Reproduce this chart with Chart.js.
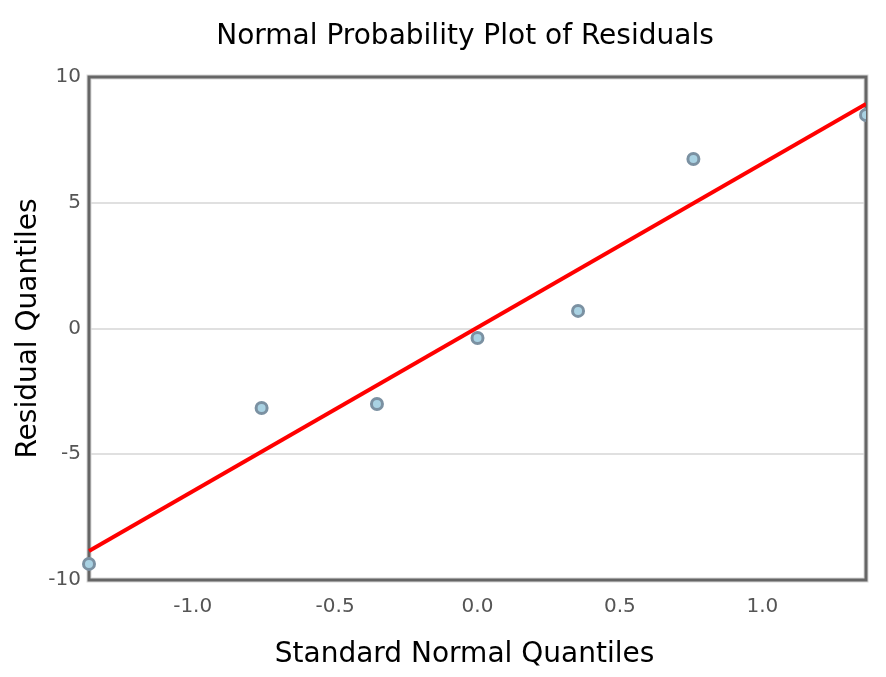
<!DOCTYPE html>
<html>
<head>
<meta charset="utf-8">
<script src="https://cdn.jsdelivr.net/npm/chart.js@4"></script>
<style>
  html, body { margin: 0; padding: 0; background: #fff; }
  #wrap { width: 886px; height: 677px; }
</style>
</head>
<body>
<div id="wrap"><canvas id="grafico"></canvas></div>
<script>
// theoretical quantiles and residual quantiles
const quantis = [-1.364, -0.758, -0.353, 0.0, 0.353, 0.758, 1.364];
const residuos = [-9.36, -3.16, -3.0, -0.38, 0.70, 6.74, 8.49];

// reference line endpoints
const linhaX = [-1.364, 1.364];
const linhaY = [-8.85, 8.93];

const ticksY = [-10, -5, 0, 5, 10];
const ticksX = [-1.0, -0.5, 0.0, 0.5, 1.0];

const fonte = "'DejaVu Sans', sans-serif";

const moldura = {
  id: "moldura",
  afterLayout(chart) {
    // titles sit a little left of the plot centre in the original
    chart.titleBlock.left = 44;
    chart.titleBlock.right = 886;
    chart.scales.x.left = 63;
  },
  beforeDatasetsDraw(chart) {
    const a = chart.chartArea;
    const ctx = chart.ctx;
    ctx.save();
    ctx.strokeStyle = "#d8d8d8";
    ctx.lineWidth = 5;
    ctx.strokeRect(a.left, a.top, a.right - a.left, a.bottom - a.top);
    ctx.strokeStyle = "#666";
    ctx.lineWidth = 3;
    ctx.strokeRect(a.left, a.top, a.right - a.left, a.bottom - a.top);
    ctx.restore();
  }
};

new Chart(document.getElementById("grafico"), {
  type: "scatter",
  data: {
    datasets: [
      {
        type: "line",
        data: linhaX.map((x, i) => ({ x, y: linhaY[i] })),
        borderColor: "#ff0000",
        borderWidth: 4,
        pointRadius: 0,
        fill: false
      },
      {
        data: quantis.map((x, i) => ({ x, y: residuos[i] })),
        backgroundColor: "#a9d2e3",
        borderColor: "#7b91a2",
        borderWidth: 3,
        pointRadius: 5.5,
        pointHoverRadius: 5.5
      }
    ]
  },
  options: {
    responsive: true,
    maintainAspectRatio: false,
    animation: false,
    layout: { padding: { left: 0, right: 20, top: 0, bottom: 0 } },
    plugins: {
      legend: { display: false },
      tooltip: { enabled: false },
      title: {
        display: true,
        text: "Normal Probability Plot of Residuals",
        color: "#000",
        font: { family: fonte, size: 28, weight: "normal" },
        padding: { top: 20, bottom: 23.4 }
      }
    },
    scales: {
      x: {
        type: "linear",
        min: linhaX[0],
        max: linhaX[1],
        afterBuildTicks(s) { s.ticks = ticksX.map(v => ({ value: v })); },
        afterFit(s) { s.height = 97; },
        grid: { display: false, drawTicks: false },
        border: { display: false },
        ticks: {
          color: "#555",
          padding: 15,
          font: { family: fonte, size: 20 },
          callback: v => v.toFixed(1)
        },
        title: {
          display: true,
          text: "Standard Normal Quantiles",
          color: "#000",
          font: { family: fonte, size: 28 },
          padding: { top: 0, bottom: 5 }
        }
      },
      y: {
        type: "linear",
        min: -10,
        max: 10,
        afterBuildTicks(s) { s.ticks = ticksY.map(v => ({ value: v })); },
        afterFit(s) { s.width = 89; },
        grid: { color: "#e0e0e0", lineWidth: 2, drawTicks: false },
        border: { display: false },
        ticks: {
          color: "#555",
          padding: 8,
          font: { family: fonte, size: 20 }
        },
        title: {
          display: true,
          text: "Residual Quantiles",
          color: "#000",
          font: { family: fonte, size: 28 },
          padding: { top: 12, bottom: 0 }
        }
      }
    }
  },
  plugins: [moldura]
});
</script>
</body>
</html>
